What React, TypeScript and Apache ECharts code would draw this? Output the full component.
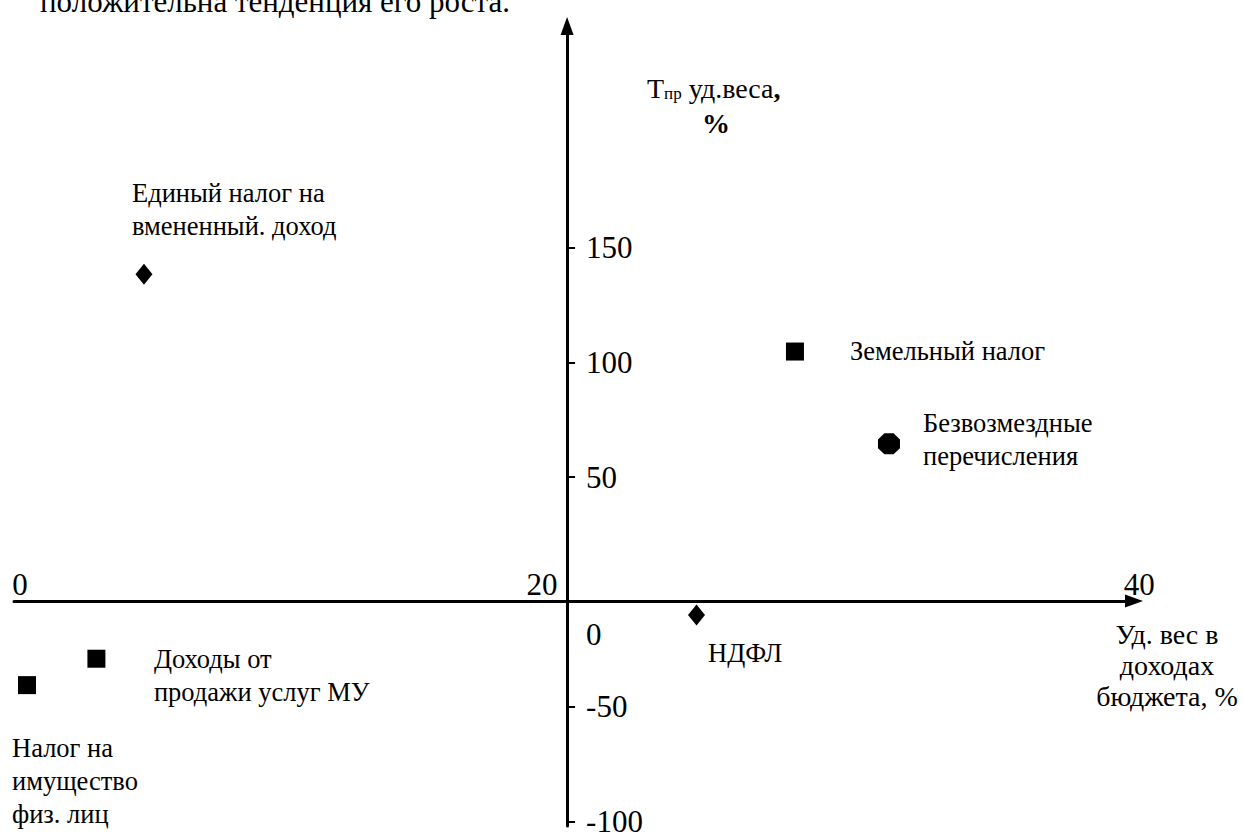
import React, { useEffect, useRef } from "react";
import * as echarts from "echarts";

// ---- data ----
const categories = [
  "Единый налог на\nвмененный. доход",
  "Земельный налог",
  "Безвозмездные\nперечисления",
  "НДФЛ",
  "Доходы от\nпродажи услуг МУ",
  "Налог на\nимущество\nфиз. лиц",
];
const shareValues = [4.7, 28.24, 31.64, 24.68, 2.98, 0.47]; // Уд. вес в доходах бюджета, %
const growthValues = [138.4, 104.7, 64.5, -10.1, -29.1, -40.6]; // Тпр уд.веса, %
const markerKinds = ["diamond", "square", "octagon", "diamond", "square", "square"];
const xTickValues = [0, 20, 40];
const yTickValues = [-100, -50, 50, 100, 150];
const yLabelValues = [-100, -50, 0, 50, 100, 150];
const xAxisTitle = "Уд. вес в\nдоходах\nбюджета, %";
const introText = "положительна тенденция его роста.";

// ---- styles / layout ----
const FONT = "Liberation Serif";
const LABEL_SIZE = 26.5;
const TICK_SIZE = 31;
const labelOffsets: number[][] = [
  [-12, -97.5],
  [55, -17],
  [34, -37],
  [11.5, 21.5],
  [57.5, -16.5],
  [-15, 46.5],
];
const octagon = "path://M7,0 L17,0 L24,7 L24,17 L17,24 L7,24 L0,17 L0,7 Z";
const symbolFor = (k: string) =>
  k === "diamond"
    ? { symbol: "diamond", symbolSize: [17, 21] }
    : k === "octagon"
    ? { symbol: octagon, symbolSize: [22, 21] }
    : { symbol: "rect", symbolSize: [18, 18] };

const W = 1243;
const H = 837;
const GRID_LEFT = 14;
const GRID_RIGHT = 109;
const GRID_TOP = 26;
const GRID_BOTTOM = 5;
const X_MIN = 0;
const X_MAX = 40.5;
const Y_MIN = -102;
const Y_MAX = 246.5;
const CROSS_X = 20; // vertical axis drawn at x = 20
const X_AXIS_FROM_BOTTOM = 225; // horizontal axis drawn where the figure has it

export default function App() {
  const ref = useRef<HTMLDivElement>(null);
  useEffect(() => {
    if (!ref.current) return;
    const chart = echarts.init(ref.current, null, { renderer: "svg" });
    const plotW = W - GRID_LEFT - GRID_RIGHT;
    const yAxisShift = -((CROSS_X - X_MIN) / (X_MAX - X_MIN)) * plotW;

    const data = categories.map((name, i) => ({
      name,
      value: [shareValues[i], growthValues[i]],
      ...symbolFor(markerKinds[i]),
      label: {
        show: true,
        position: "inside",
        align: "left",
        verticalAlign: "top",
        offset: labelOffsets[i],
        formatter: "{b}",
        color: "#000",
        fontFamily: FONT,
        fontSize: LABEL_SIZE,
        lineHeight: 33,
      },
    }));

    const tickRich = (pad: number[]) => ({
      fontFamily: FONT,
      fontSize: TICK_SIZE,
      color: "#000",
      padding: pad,
    });

    chart.setOption({
      animation: false,
      backgroundColor: "#fff",
      textStyle: { fontFamily: FONT, color: "#000" },
      grid: { left: GRID_LEFT, right: GRID_RIGHT, top: GRID_TOP, bottom: GRID_BOTTOM },
      xAxis: {
        type: "value",
        min: X_MIN,
        max: X_MAX,
        position: "bottom",
        offset: -X_AXIS_FROM_BOTTOM,
        axisLine: {
          onZero: false,
          lineStyle: { color: "#000", width: 3 },
          symbol: ["none", "triangle"],
          symbolSize: [13, 18],
        },
        axisTick: { show: false },
        splitLine: { show: false },
        axisLabel: {
          inside: true,
          margin: 1,
          customValues: xTickValues,
          color: "#000",
          fontFamily: FONT,
          fontSize: TICK_SIZE,
          formatter: (v: number) =>
            v === 0 ? "{a|0}" : v === 20 ? "{b|20}" : "{c|40}",
          rich: {
            a: tickRich([0, 0, 0, 12]),
            b: tickRich([0, 50, 0, 0]),
            c: tickRich([0, 0, 0, 38]),
          },
        },
      },
      yAxis: {
        type: "value",
        min: Y_MIN,
        max: Y_MAX,
        position: "left",
        offset: yAxisShift,
        axisLine: {
          show: true,
          onZero: false,
          lineStyle: { color: "#000", width: 3 },
          symbol: ["none", "triangle"],
          symbolSize: [13, 18],
        },
        axisTick: {
          show: true,
          inside: true,
          length: 8,
          customValues: yTickValues,
          lineStyle: { color: "#000", width: 2 },
        },
        splitLine: { show: false },
        axisLabel: {
          inside: true,
          margin: 19,
          customValues: yLabelValues,
          color: "#000",
          fontFamily: FONT,
          fontSize: TICK_SIZE,
          formatter: (v: number) => (v === 0 ? "{z|0}" : "{n|" + v + "}"),
          rich: {
            z: tickRich([86, 0, 0, 0]),
            n: tickRich([0, 0, 0, 0]),
          },
        },
      },
      graphic: [
        {
          type: "text",
          x: 647,
          y: 71,
          style: {
            text: "{t|Т}{s|пр}{t| уд.веса}{b|,}\n{p|%}",
            align: "left",
            fill: "#000",
            rich: {
              t: { fontFamily: FONT, fontSize: 28, lineHeight: 35, fill: "#000" },
              s: { fontFamily: FONT, fontSize: 17, lineHeight: 35, fill: "#000", verticalAlign: "bottom", padding: [0, 0, 4, 0] },
              b: { fontFamily: FONT, fontSize: 28, lineHeight: 35, fontWeight: "bold", fill: "#000" },
              p: { fontFamily: FONT, fontSize: 28, lineHeight: 35, fontWeight: "bold", fill: "#000", padding: [0, 0, 0, 55] },
            },
          },
        },
        {
          type: "text",
          x: 1167,
          y: 619,
          style: {
            text: xAxisTitle,
            align: "center",
            fill: "#000",
            fontFamily: FONT,
            fontSize: 28,
            lineHeight: 31,
          },
        },
        {
          type: "text",
          x: 40,
          y: -14.5,
          style: {
            text: introText,
            fill: "#000",
            fontFamily: FONT,
            fontSize: 31,
          },
        },
      ],
      series: [
        {
          type: "scatter",
          data,
          itemStyle: { color: "#000", opacity: 1 },
          emphasis: { disabled: true },
        },
      ],
    });
    return () => chart.dispose();
  }, []);

  return (
    <div
      ref={ref}
      style={{ position: "fixed", left: 0, top: 0, width: W, height: H, background: "#fff" }}
    />
  );
}
